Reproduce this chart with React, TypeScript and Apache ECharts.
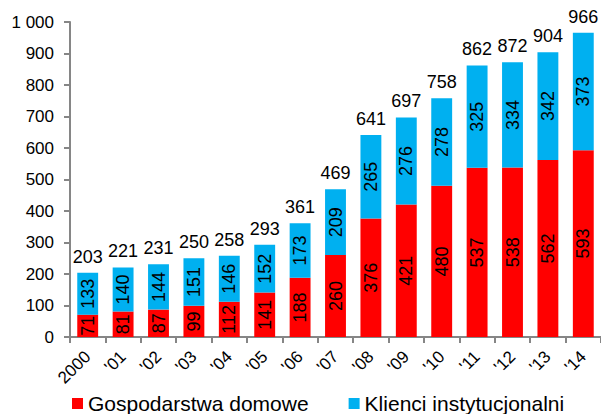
import React, { useEffect, useRef } from "react";
import * as echarts from "echarts";

const categories = ["2000", "'01", "'02", "'03", "'04", "'05", "'06", "'07", "'08", "'09", "'10", "'11", "'12", "'13", "'14"];
const households = [71, 81, 87, 99, 112, 141, 188, 260, 376, 421, 480, 537, 538, 562, 593];
const institutional = [133, 140, 144, 151, 146, 152, 173, 209, 265, 276, 278, 325, 334, 342, 373];
const totals = [203, 221, 231, 250, 258, 293, 361, 469, 641, 697, 758, 862, 872, 904, 966];
const seriesNames = ["Gospodarstwa domowe", "Klienci instytucjonalni"];

const FONT = "'Liberation Sans', Arial, sans-serif";

export default function App() {
  const ref = useRef<HTMLDivElement>(null);
  useEffect(() => {
    if (!ref.current) return;
    const chart = echarts.init(ref.current, undefined, { renderer: "svg" });
    const inside = {
      show: true,
      position: "inside",
      rotate: 90,
      color: "#000",
      fontSize: 18,
      fontFamily: FONT,
    };
    chart.setOption({
      animation: false,
      textStyle: { fontFamily: FONT },
      grid: { left: 70, right: 0, top: 22, bottom: 77, containLabel: false },
      legend: {
        data: seriesNames,
        left: 72,
        top: 393,
        padding: 0,
        itemWidth: 11,
        itemHeight: 11,
        itemGap: 40,
        icon: "rect",
        textStyle: { fontSize: 21, color: "#000", fontFamily: FONT },
      },
      xAxis: {
        type: "category",
        data: categories,
        axisLine: { lineStyle: { color: "#868686", width: 2 } },
        axisTick: { show: true, length: 6, lineStyle: { color: "#868686", width: 2 } },
        axisLabel: { rotate: 45, margin: 17, fontSize: 17, color: "#000", fontFamily: FONT, interval: 0 },
      },
      yAxis: {
        type: "value",
        min: 0,
        max: 1000,
        interval: 100,
        axisLine: { show: true, lineStyle: { color: "#868686", width: 2 } },
        axisTick: { show: true, length: 6, lineStyle: { color: "#868686", width: 2 } },
        splitLine: { show: false },
        axisLabel: {
          fontSize: 17,
          color: "#000",
          margin: 16,
          fontFamily: FONT,
          formatter: (v: number) => (v >= 1000 ? Math.floor(v / 1000) + " " + String(v % 1000).padStart(3, "0") : String(v)),
        },
      },
      series: [
        {
          name: seriesNames[0],
          type: "bar",
          stack: "a",
          barWidth: "59%",
          data: households,
          itemStyle: { color: "#ff0000" },
          label: inside,
        },
        {
          name: seriesNames[1],
          type: "bar",
          stack: "a",
          data: institutional,
          itemStyle: { color: "#00b0f0" },
          label: inside,
        },
        {
          name: "total",
          type: "line",
          data: totals,
          symbol: "circle",
          symbolSize: 0,
          showSymbol: true,
          lineStyle: { opacity: 0 },
          label: { show: true, position: "top", distance: 7, fontSize: 18, color: "#000", fontFamily: FONT },
          silent: true,
        },
      ],
    });
    return () => chart.dispose();
  }, []);
  return <div ref={ref} style={{ width: 601, height: 414, position: "absolute", left: 0, top: 0 }} />;
}
